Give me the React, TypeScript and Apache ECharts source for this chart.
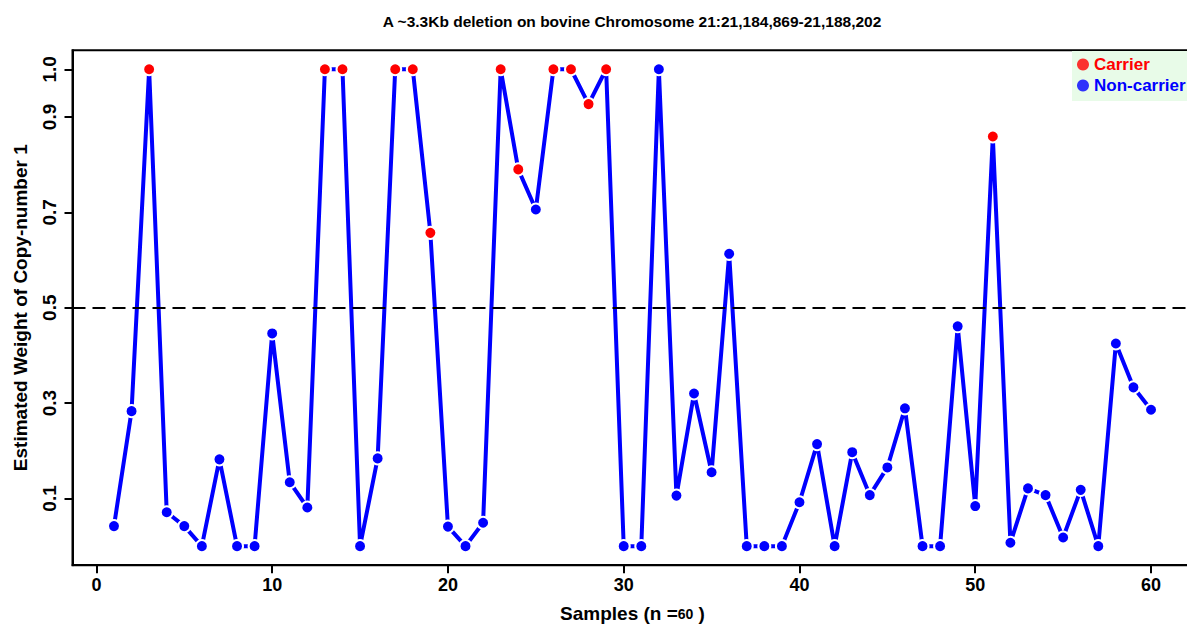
import React, { useEffect, useRef } from "react";
import * as echarts from "echarts";

const chartTitle = "A ~3.3Kb deletion on bovine Chromosome 21:21,184,869-21,188,202";
const xAxisTitle = "Samples (n =";
const sampleCount = "60";
const yAxisTitle = "Estimated Weight of Copy-number 1";

const samples = [
  1, 2, 3, 4, 5, 6, 7, 8, 9, 10,
  11, 12, 13, 14, 15, 16, 17, 18, 19, 20,
  21, 22, 23, 24, 25, 26, 27, 28, 29, 30,
  31, 32, 33, 34, 35, 36, 37, 38, 39, 40,
  41, 42, 43, 44, 45, 46, 47, 48, 49, 50,
  51, 52, 53, 54, 55, 56, 57, 58, 59, 60,
];

const weights = [
  0.042, 0.283, 1.0, 0.071, 0.042, 0.0, 0.182, 0.0, 0.0, 0.446,
  0.134, 0.081, 1.0, 1.0, 0.0, 0.184, 1.0, 1.0, 0.657, 0.041,
  0.0, 0.049, 1.0, 0.79, 0.706, 1.0, 1.0, 0.927, 1.0, 0.0,
  0.0, 1.0, 0.106, 0.32, 0.155, 0.613, 0.0, 0.0, 0.0, 0.092,
  0.214, 0.0, 0.197, 0.107, 0.165, 0.289, 0.0, 0.0, 0.461, 0.084,
  0.859, 0.007, 0.121, 0.107, 0.018, 0.118, 0.0, 0.425, 0.333, 0.286,
];

const carrierSamples = [3, 13, 14, 17, 18, 19, 23, 24, 26, 27, 28, 29, 51];

const xTicks = [0, 10, 20, 30, 40, 50, 60];
const yTicks = [0.1, 0.3, 0.5, 0.7, 0.9, 1.0];
const threshold = 0.5;
const legendNames = ["Carrier", "Non-carrier"];

const RED = "#ff0000";
const BLUE = "#0000ff";
const FONT = "'Liberation Sans', Arial, sans-serif";

export default function App() {
  const ref = useRef<HTMLDivElement>(null);

  useEffect(() => {
    document.body.style.margin = "0";
    if (!ref.current) return;
    const chart = echarts.init(ref.current, undefined, { renderer: "svg" });

    const lineData = samples.map((s, i) => ({
      value: [s, weights[i]],
      itemStyle: { color: carrierSamples.includes(s) ? RED : BLUE },
    }));

    chart.setOption({
      animation: false,
      backgroundColor: "#ffffff",
      graphic: [
        {
          type: "text",
          x: 632,
          y: 21,
          style: {
            text: chartTitle,
            font: `bold 15.5px ${FONT}`,
            fill: "#000",
            textAlign: "center",
            textVerticalAlign: "middle",
          },
        },
      ],
      grid: {
        left: 72.5,
        top: 50.2,
        width: 1120,
        height: 515,
        show: true,
        borderColor: "#000",
        borderWidth: 2,
        backgroundColor: "transparent",
        containLabel: false,
        outerBoundsMode: "none",
      },
      legend: {
        orient: "vertical",
        left: 1072,
        top: 51,
        icon: "circle",
        itemWidth: 12,
        itemHeight: 12,
        itemGap: 0,
        backgroundColor: "#e8fbe8",
        padding: [3, 10, 5, 5],
        data: [
          { name: legendNames[0], textStyle: { color: RED } },
          { name: legendNames[1], textStyle: { color: BLUE } },
        ],
        textStyle: { fontSize: 17, lineHeight: 21, fontWeight: "bold", fontFamily: FONT },
      },
      xAxis: {
        type: "value",
        min: -1.36,
        max: 62.36,
        name: `${xAxisTitle}{s|${sampleCount}} )`,
        nameLocation: "middle",
        nameGap: 39,
        nameTextStyle: {
          fontSize: 19,
          fontWeight: "bold",
          fontFamily: FONT,
          color: "#000",
          rich: { s: { fontSize: 14, fontWeight: "bold", fontFamily: FONT, color: "#000" } },
        },
        axisLine: { show: true, onZero: false, lineStyle: { color: "#000", width: 2 } },
        splitLine: { show: false },
        axisTick: {
          show: true,
          inside: false,
          length: 8,
          lineStyle: { color: "#000", width: 2 },
          customValues: xTicks,
        },
        axisLabel: {
          customValues: xTicks,
          fontSize: 18,
          fontWeight: "bold",
          fontFamily: FONT,
          color: "#000",
          margin: 11,
        },
      },
      yAxis: {
        type: "value",
        min: -0.04,
        max: 1.04,
        name: yAxisTitle,
        nameLocation: "middle",
        nameGap: 43,
        nameTextStyle: { fontSize: 19, fontWeight: "bold", fontFamily: FONT, color: "#000" },
        axisLine: { show: true, onZero: false, lineStyle: { color: "#000", width: 2 } },
        splitLine: { show: false },
        axisTick: {
          show: true,
          inside: false,
          length: 8,
          lineStyle: { color: "#000", width: 2 },
          customValues: yTicks,
        },
        axisLabel: {
          customValues: yTicks,
          rotate: 90,
          formatter: (v: number) => v.toFixed(1),
          fontSize: 19,
          fontWeight: "bold",
          fontFamily: FONT,
          color: "#000",
          margin: 14,
        },
      },
      series: [
        {
          type: "line",
          name: "weights",
          data: lineData,
          symbol: "circle",
          symbolSize: 12,
          lineStyle: { color: BLUE, width: 4 },
          itemStyle: { color: BLUE, borderColor: "#ffffff", borderWidth: 2 },
          emphasis: { disabled: true },
          markLine: {
            silent: true,
            symbol: "none",
            label: { show: false },
            lineStyle: { color: "#000", type: [13, 7], width: 2 },
            data: [{ yAxis: threshold }],
          },
          z: 3,
        },
        { type: "scatter", name: legendNames[0], data: [], itemStyle: { color: RED } },
        { type: "scatter", name: legendNames[1], data: [], itemStyle: { color: BLUE } },
      ],
    });

    return () => chart.dispose();
  }, []);

  return <div ref={ref} style={{ width: 1187, height: 626 }} />;
}
